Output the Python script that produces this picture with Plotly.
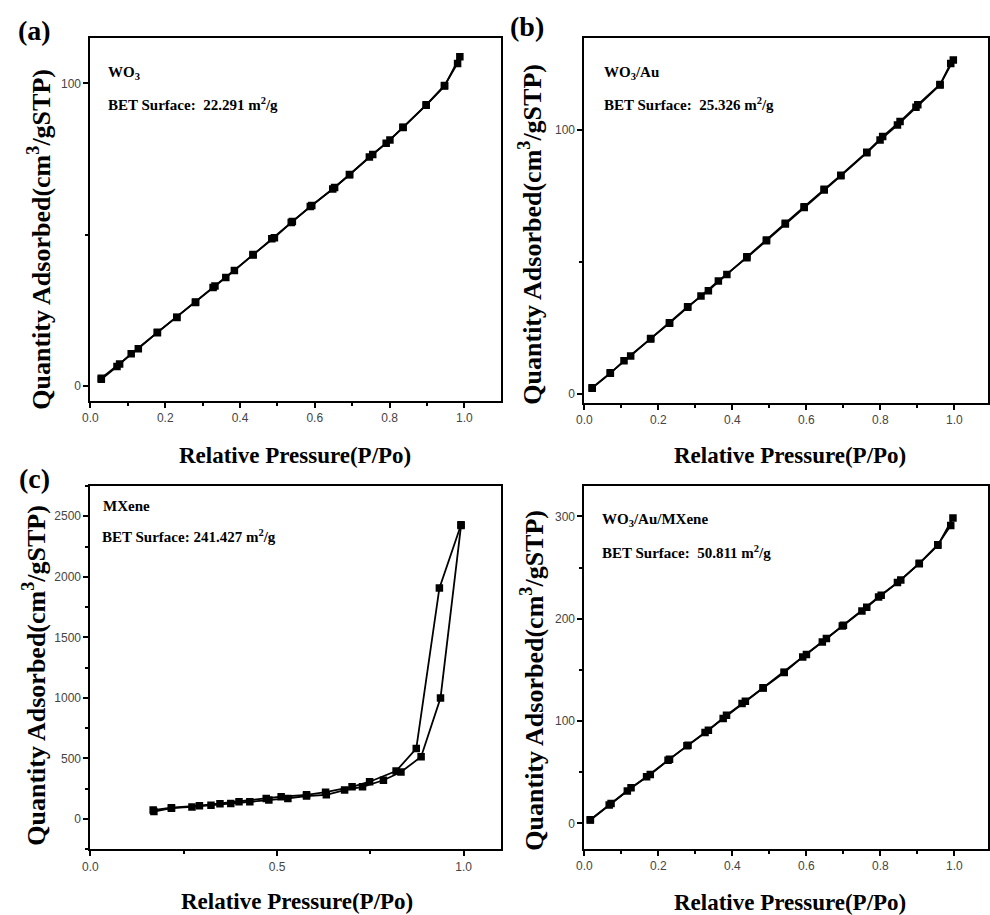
import plotly.graph_objects as go

# ---------------- data ----------------
# (a) WO3
a_ads_x = [0.029, 0.071, 0.109, 0.179, 0.231, 0.281, 0.328, 0.362, 0.435, 0.485, 0.537, 0.588, 0.648, 0.693, 0.746, 0.791, 0.836, 0.898, 0.947, 0.988]
a_ads_y = [2.2, 6.4, 10.6, 17.6, 22.6, 27.6, 32.5, 35.8, 43.3, 48.6, 54.0, 59.3, 65.1, 69.8, 75.7, 80.2, 85.4, 92.8, 99.1, 108.8]
a_des_x = [0.982, 0.947, 0.898, 0.836, 0.801, 0.755, 0.693, 0.653, 0.592, 0.540, 0.492, 0.435, 0.385, 0.333, 0.281, 0.231, 0.179, 0.128, 0.078, 0.029]
a_des_y = [106.6, 99.3, 92.9, 85.5, 81.3, 76.5, 69.9, 65.6, 59.6, 54.3, 49.0, 43.4, 38.1, 33.0, 27.7, 22.7, 17.7, 12.3, 7.2, 2.5]

# (b) WO3/Au
b_ads_x = [0.021, 0.070, 0.107, 0.179, 0.230, 0.279, 0.315, 0.362, 0.439, 0.492, 0.543, 0.594, 0.648, 0.693, 0.763, 0.799, 0.846, 0.896, 0.961, 0.997]
b_ads_y = [2.3, 7.9, 12.7, 20.9, 26.9, 32.9, 37.2, 42.9, 51.7, 58.1, 64.4, 70.7, 77.3, 82.7, 91.4, 96.2, 101.9, 108.6, 117.0, 126.5]
b_des_x = [0.990, 0.961, 0.901, 0.853, 0.806, 0.763, 0.693, 0.648, 0.594, 0.543, 0.492, 0.439, 0.385, 0.335, 0.279, 0.230, 0.179, 0.125, 0.070, 0.021]
b_des_y = [125.2, 117.2, 109.6, 103.2, 97.5, 91.6, 82.9, 77.6, 71.0, 64.7, 58.4, 52.0, 45.3, 39.2, 33.1, 27.1, 21.1, 14.5, 8.1, 2.5]

# (c) MXene
c_ads_x = [0.170, 0.217, 0.272, 0.323, 0.376, 0.427, 0.478, 0.529, 0.579, 0.632, 0.681, 0.729, 0.785, 0.832, 0.886, 0.938, 0.993]
c_ads_y = [62, 90, 100, 113, 128, 143, 157, 170, 190, 200, 239, 266, 320, 388, 514, 1000, 2423]
c_des_x = [0.993, 0.935, 0.873, 0.819, 0.748, 0.701, 0.630, 0.579, 0.511, 0.471, 0.398, 0.347, 0.292, 0.217, 0.168]
c_des_y = [2430, 1907, 582, 396, 308, 266, 222, 200, 184, 170, 143, 126, 110, 93, 74]

# (d) WO3/Au/MXene
d_ads_x = [0.016, 0.067, 0.116, 0.168, 0.226, 0.277, 0.326, 0.375, 0.426, 0.483, 0.540, 0.590, 0.643, 0.697, 0.750, 0.795, 0.846, 0.905, 0.955, 0.996]
d_ads_y = [3.3, 17.9, 31.6, 45.6, 61.8, 75.8, 88.8, 102.5, 117.1, 132.4, 147.4, 162.7, 177.3, 193.0, 207.6, 221.3, 235.3, 253.8, 271.7, 298.4]
d_des_x = [0.990, 0.955, 0.905, 0.855, 0.802, 0.763, 0.700, 0.654, 0.600, 0.540, 0.483, 0.435, 0.384, 0.335, 0.280, 0.230, 0.178, 0.126, 0.072, 0.016]
d_des_y = [291.2, 272.4, 254.2, 237.9, 222.9, 211.2, 193.6, 180.6, 165.0, 147.8, 132.6, 119.4, 105.8, 91.1, 76.3, 62.8, 47.8, 34.8, 19.5, 3.6]

sample_names = ["WO<sub>3</sub>", "WO<sub>3</sub>/Au", "MXene", "WO<sub>3</sub>/Au/MXene"]
bet_labels = ["BET Surface:  22.291 m<sup>2</sup>/g", "BET Surface:  25.326 m<sup>2</sup>/g",
              "BET Surface: 241.427 m<sup>2</sup>/g", "BET Surface:  50.811 m<sup>2</sup>/g"]
panel_labels = ["(a)", "(b)", "(c)"]
x_title = "Relative Pressure(P/Po)"
y_title = "Quantity Adsorbed(cm<sup>3</sup>/gSTP)"

W, H = 990, 915
SERIF = "Liberation Serif, Times New Roman, serif"
SANS = "Liberation Sans, Arial, sans-serif"

# pixel boxes (left, right, top, bottom)
boxes = [(83.3, 498, 38, 401), (582.3, 990, 38.3, 402.7), (83.3, 498, 486, 849.3), (582.3, 990, 485.7, 849)]
xranges = [[0, 1.098], [0, 1.0907], [0, 1.1], [0, 1.0907]]
yranges = [[-5, 115], [-3.2, 134.7], [-250, 2750], [-25, 330]]
xdt = [(0.2, 0.1), (0.2, 0.1), (0.5, 0.25), (0.2, 0.1)]
ydt = [(100, 50), (100, 50), (500, 250), (100, 50)]

datasets = [(a_ads_x, a_ads_y, a_des_x, a_des_y), (b_ads_x, b_ads_y, b_des_x, b_des_y),
            (c_ads_x, c_ads_y, c_des_x, c_des_y), (d_ads_x, d_ads_y, d_des_x, d_des_y)]

fig = go.Figure()
layout = dict(width=W, height=H, margin=dict(l=0, r=0, t=0, b=0),
              paper_bgcolor="white", plot_bgcolor="white", showlegend=False)

annotations = []
for i in range(4):
    n = "" if i == 0 else str(i + 1)
    l, r, t, b = boxes[i]
    ax = dict(domain=[l / W, r / W], range=xranges[i], anchor="y" + n,
              showgrid=False, zeroline=False, showline=True, linecolor="black", linewidth=2,
              mirror=True, ticks="outside", ticklen=5, tickwidth=1.5, tickcolor="black",
              dtick=xdt[i][0], tick0=0, tickformat=".1f",
              tickfont=dict(family=SANS, size=12, color="#444"),
              minor=dict(dtick=xdt[i][1], tick0=0, ticks="outside", ticklen=3, tickwidth=1.5, tickcolor="black"))
    ay = dict(domain=[1 - b / H, 1 - t / H], range=yranges[i], anchor="x" + n,
              showgrid=False, zeroline=False, showline=True, linecolor="black", linewidth=2,
              mirror=True, ticks="outside", ticklen=5, tickwidth=1.5, tickcolor="black",
              dtick=ydt[i][0], tick0=0,
              tickfont=dict(family=SANS, size=12, color="#444"),
              minor=dict(dtick=ydt[i][1], tick0=0, ticks="outside", ticklen=3, tickwidth=1.5, tickcolor="black"))
    layout["xaxis" + n] = ax
    layout["yaxis" + n] = ay
    axx, ayy, dxx, dyy = datasets[i]
    for xs, ys in ((axx, ayy), (dxx, dyy)):
        fig.add_trace(go.Scatter(x=xs, y=ys, mode="lines+markers", xaxis="x" + n, yaxis="y" + n,
                                 line=dict(color="black", width=1.8),
                                 marker=dict(symbol="square", size=7.5, color="black")))

# titles / labels placed in pixels
def pa(x, y, text, size, angle=0, xanchor="center", yanchor="middle"):
    annotations.append(dict(x=x / W, y=1 - y / H, xref="paper", yref="paper", text=text,
                            showarrow=False, textangle=angle, xanchor=xanchor, yanchor=yanchor,
                            font=dict(family=SERIF, size=size, color="black", weight="bold")))

ytitle_pos = [(32, 239), (528, 234), (26, 675), (529, 680)]
xtitle_pos = [(290, 455), (790, 455), (292, 901), (790, 902)]
name_pos = [(99, 73), (600, 73), (94, 506), (598, 520)]
bet_pos = [(99, 104), (600, 104), (93, 536), (598, 552)]
for i in range(4):
    pa(*ytitle_pos[i], y_title, 26, angle=-90)
    pa(*xtitle_pos[i], x_title, 23)
    pa(*name_pos[i], sample_names[i], 15, xanchor="left")
    pa(*bet_pos[i], bet_labels[i], 15, xanchor="left")

label_pos = [(27, 31), (524, 27), (27, 478)]
for i in range(3):
    pa(*label_pos[i], panel_labels[i], 28)

layout["annotations"] = annotations
fig.update_layout(**layout)
fig.write_html("out.html", config={"displayModeBar": False},
               post_script="document.body.style.margin='0';document.body.style.padding='0';document.body.style.overflow='hidden';")
